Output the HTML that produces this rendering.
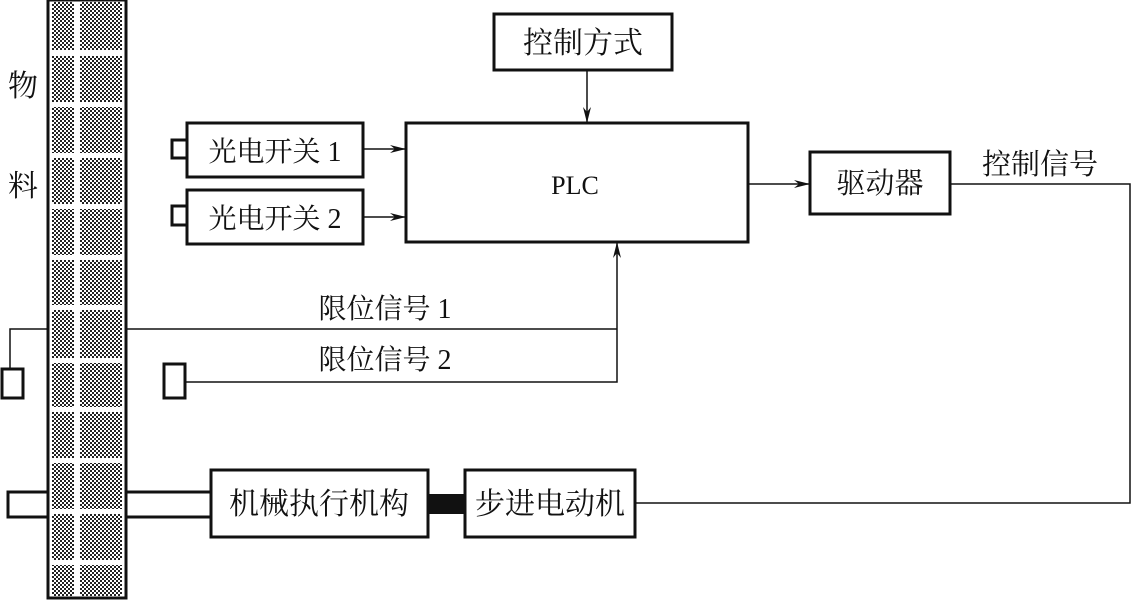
<!DOCTYPE html>
<html><head><meta charset="utf-8"><style>
html,body{margin:0;padding:0;background:#fff;}
svg text{font-family:"Liberation Serif","Noto Serif CJK SC",serif;fill:#111;}
</style></head><body>
<svg width="1132" height="600" viewBox="0 0 1132 600" xmlns="http://www.w3.org/2000/svg">
<defs>
<pattern id="ck" width="4" height="4" patternUnits="userSpaceOnUse">
<rect width="4" height="4" fill="#fff"/>
<rect width="2" height="2" fill="#222"/>
<rect x="2" y="2" width="2" height="2" fill="#222"/>
</pattern>
<marker id="ar" markerWidth="16" markerHeight="8" refX="15" refY="4" orient="auto" markerUnits="userSpaceOnUse">
<path d="M0,0 L16,4 L0,8 L5,4 Z" fill="#111"/>
</marker>
</defs>
<!-- material column -->
<rect x="48" y="0" width="78" height="598" fill="#fff" stroke="#111" stroke-width="3"/>
<g fill="url(#ck)">
<rect x="52" y="2" width="22" height="48"/><rect x="80" y="2" width="42" height="48"/>
<rect x="52" y="56" width="22" height="46"/><rect x="80" y="56" width="42" height="46"/>
<rect x="52" y="107" width="22" height="46"/><rect x="80" y="107" width="42" height="46"/>
<rect x="52" y="158" width="22" height="46"/><rect x="80" y="158" width="42" height="46"/>
<rect x="52" y="209" width="22" height="46"/><rect x="80" y="209" width="42" height="46"/>
<rect x="52" y="260" width="22" height="45"/><rect x="80" y="260" width="42" height="45"/>
<rect x="52" y="310" width="22" height="48"/><rect x="80" y="310" width="42" height="48"/>
<rect x="52" y="363" width="22" height="44"/><rect x="80" y="363" width="42" height="44"/>
<rect x="52" y="412" width="22" height="46"/><rect x="80" y="412" width="42" height="46"/>
<rect x="52" y="463" width="22" height="46"/><rect x="80" y="463" width="42" height="46"/>
<rect x="52" y="514" width="22" height="46"/><rect x="80" y="514" width="42" height="46"/>
<rect x="52" y="565" width="22" height="31"/><rect x="80" y="565" width="42" height="31"/>
</g>
<text x="8" y="96" font-size="30">物</text>
<text x="8" y="196" font-size="30">料</text>

<g fill="none" stroke="#111">
<!-- control mode -->
<rect x="494" y="14" width="178" height="56" stroke-width="3"/>
<line x1="587" y1="70" x2="587" y2="122" stroke-width="1.5" marker-end="url(#ar)"/>
<!-- PLC -->
<rect x="406" y="123" width="342" height="119" stroke-width="3"/>
<!-- switches -->
<rect x="187" y="123" width="176" height="54" stroke-width="3"/>
<rect x="172" y="140" width="15" height="18" stroke-width="3"/>
<rect x="187" y="190" width="176" height="54" stroke-width="3"/>
<rect x="172" y="206" width="15" height="19" stroke-width="3"/>
<line x1="363" y1="149" x2="405" y2="149" stroke-width="1.5" marker-end="url(#ar)"/>
<line x1="363" y1="217" x2="405" y2="217" stroke-width="1.5" marker-end="url(#ar)"/>
<!-- driver -->
<line x1="748" y1="184" x2="809" y2="184" stroke-width="1.5" marker-end="url(#ar)"/>
<rect x="810" y="152" width="140" height="62" stroke-width="3"/>
<polyline points="950,184 1130,184 1130,503 635,503" stroke-width="1.5"/>
<!-- limit signals -->
<polyline points="126,329 617,329" stroke-width="1.5"/>
<polyline points="185,382 617,382 617,243" stroke-width="1.5" marker-end="url(#ar)"/>
<polyline points="48,329 10,329 10,368" stroke-width="1.5"/>
<rect x="2" y="369" width="21" height="29" stroke-width="3"/>
<rect x="164" y="364" width="21" height="34" stroke-width="3"/>
<!-- shaft -->
<polyline points="48,492 8,492 8,517 48,517" stroke-width="3"/>
<line x1="126" y1="492" x2="211" y2="492" stroke-width="3"/>
<line x1="126" y1="517" x2="211" y2="517" stroke-width="3"/>
<rect x="211" y="470" width="217" height="67" stroke-width="3"/>
<rect x="465" y="470" width="170" height="67" stroke-width="3"/>
</g>
<rect x="428" y="494" width="37" height="20" fill="#111"/>

<text x="583" y="53" font-size="30" text-anchor="middle">控制方式</text>
<text x="575" y="194" font-size="26" text-anchor="middle">PLC</text>
<text x="275" y="161" font-size="28" text-anchor="middle">光电开关 1</text>
<text x="275" y="228" font-size="28" text-anchor="middle">光电开关 2</text>
<text x="880" y="193" font-size="29" text-anchor="middle">驱动器</text>
<text x="1040" y="174" font-size="29" text-anchor="middle">控制信号</text>
<text x="385" y="318" font-size="28" text-anchor="middle">限位信号 1</text>
<text x="385" y="369" font-size="28" text-anchor="middle">限位信号 2</text>
<text x="319" y="514" font-size="30" text-anchor="middle">机械执行机构</text>
<text x="550" y="514" font-size="30" text-anchor="middle">步进电动机</text>
</svg>
</body></html>
